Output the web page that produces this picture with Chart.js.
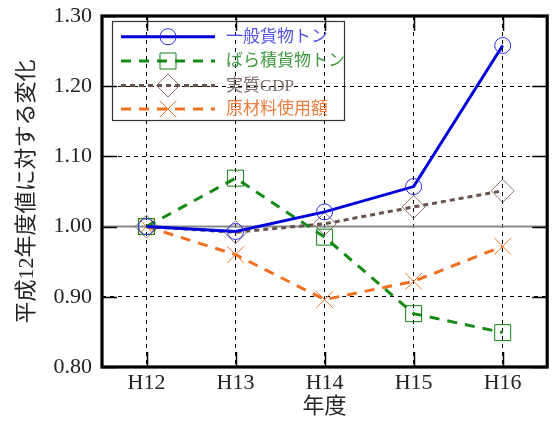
<!DOCTYPE html>
<html>
<head>
<meta charset="utf-8">
<script src="https://cdn.jsdelivr.net/npm/chart.js@4/dist/chart.umd.min.js"></script>
<style>
  html, body { margin: 0; padding: 0; background: #ffffff; }
  #wrap { width: 560px; height: 421px; }
</style>
</head>
<body>
<div id="wrap"><canvas id="c" width="560" height="421"></canvas></div>
<script>
// Fiscal years (Heisei) and ratios relative to FY H12
const years = ['H12', 'H13', 'H14', 'H15', 'H16'];
const generalCargo = [1.000, 0.993, 1.021, 1.057, 1.258];
const bulkCargo    = [1.000, 1.069, 0.985, 0.876, 0.849];
const realGdp      = [1.000, 0.992, 1.004, 1.028, 1.051];
const rawMaterial  = [1.000, 0.960, 0.896, 0.922, 0.972];
const seriesNames  = ['一般貨物トン', 'ばら積貨物トン', '実質GDP', '原材料使用額'];
const yTicks       = [0.80, 0.90, 1.00, 1.10, 1.20, 1.30];
const baseline     = 1.00;

const FONT = "'Liberation Serif', 'Noto Sans CJK JP', serif";

const datasets = [
  { label: seriesNames[0], data: generalCargo, borderColor: '#0000dd', borderWidth: 3,
    pointStyle: 'circle', pointRadius: 8, pointBorderColor: '#2a2aee',
    textColor: '#5252e6' },
  { label: seriesNames[1], data: bulkCargo, borderColor: '#168a16', borderWidth: 3, borderDash: [10, 8],
    pointStyle: 'rect', pointRadius: 11.3, pointBorderColor: '#108010',
    textColor: '#3f9a3f' },
  { label: seriesNames[2], data: realGdp, borderColor: '#6b514b', borderWidth: 3, borderDash: [5, 4],
    pointStyle: 'rectRot', pointRadius: 11.5, pointBorderColor: '#8a736c',
    textColor: '#7a6c68' },
  { label: seriesNames[3], data: rawMaterial, borderColor: '#f07020', borderWidth: 3, borderDash: [10, 8],
    pointStyle: 'crossRot', pointRadius: 11.8, pointBorderColor: '#f07a2a',
    textColor: '#f07c3c' }
].map(d => Object.assign({
  fill: false, tension: 0, pointBorderWidth: 1,
  pointBackgroundColor: 'rgba(0,0,0,0)', pointHoverRadius: d.pointRadius
}, d));

// Solid reference line at the base year level
const baselinePlugin = {
  id: 'baseline',
  beforeDatasetsDraw(chart) {
    const { ctx, chartArea: a, scales: { y } } = chart;
    const py = y.getPixelForValue(baseline);
    ctx.save();
    ctx.strokeStyle = '#8a8a8a';
    ctx.lineWidth = 2;
    ctx.beginPath();
    ctx.moveTo(a.left, py);
    ctx.lineTo(a.right, py);
    ctx.stroke();
    ctx.restore();
  }
};

// Heavy box around the plot with inward tick marks on every side
const framePlugin = {
  id: 'frame',
  afterDatasetsDraw(chart) {
    const { ctx, chartArea: a, scales: { x, y } } = chart;
    const len = 15;
    ctx.save();
    ctx.strokeStyle = '#000';
    ctx.lineWidth = 1.5;
    ctx.beginPath();
    y.ticks.forEach(t => {
      const py = Math.round(y.getPixelForValue(t.value)) + 0.5;
      ctx.moveTo(a.left, py); ctx.lineTo(a.left + len, py);
      ctx.moveTo(a.right, py); ctx.lineTo(a.right - len, py);
    });
    x.ticks.forEach((t, i) => {
      const px = Math.round(x.getPixelForTick(i)) + 0.5;
      ctx.moveTo(px, a.bottom); ctx.lineTo(px, a.bottom - len);
      ctx.moveTo(px, a.top); ctx.lineTo(px, a.top + len);
    });
    ctx.stroke();
    ctx.lineWidth = 3.2;
    ctx.strokeRect(a.left, a.top, a.right - a.left, a.bottom - a.top);
    ctx.restore();
  }
};

// Legend box in the upper-left corner: line sample, marker, then label
const legendPlugin = {
  id: 'boxLegend',
  afterDraw(chart) {
    const { ctx } = chart;
    const box = { x: 112.5, y: 21.5, w: 232, h: 99 };
    const rowY = [36.7, 61, 85.5, 109];
    const lineX0 = 121, lineX1 = 215, markX = 168, textX = 226;
    ctx.save();
    ctx.strokeStyle = '#333';
    ctx.lineWidth = 1.2;
    ctx.strokeRect(box.x, box.y, box.w, box.h);
    chart.data.datasets.forEach((ds, i) => {
      const yy = rowY[i];
      ctx.save();
      ctx.strokeStyle = ds.borderColor;
      ctx.lineWidth = ds.borderWidth;
      ctx.setLineDash(ds.borderDash || []);
      ctx.beginPath();
      ctx.moveTo(lineX0, yy);
      ctx.lineTo(lineX1, yy);
      ctx.stroke();
      ctx.restore();
      ctx.save();
      ctx.strokeStyle = ds.pointBorderColor;
      ctx.fillStyle = 'rgba(0,0,0,0)';
      ctx.lineWidth = ds.pointBorderWidth;
      Chart.helpers.drawPoint(ctx, { pointStyle: ds.pointStyle, radius: ds.pointRadius, borderWidth: 1, rotation: 0 }, markX, yy);
      ctx.restore();
      ctx.fillStyle = ds.textColor;
      ctx.font = '17px ' + FONT;
      ctx.textBaseline = 'middle';
      ctx.textAlign = 'left';
      ctx.fillText(ds.label, textX, yy + 1);
    });
    ctx.restore();
  }
};

const tickFont = { family: FONT, size: 22 };

new Chart(document.getElementById('c'), {
  type: 'line',
  data: { labels: years, datasets },
  options: {
    responsive: false,
    animation: false,
    devicePixelRatio: 1,
    layout: { padding: { left: 0, right: 3, top: 16, bottom: 0 } },
    plugins: { legend: { display: false }, tooltip: { enabled: false } },
    scales: {
      x: {
        type: 'category',
        offset: true,
        grid: { color: '#000', lineWidth: 1, drawTicks: false },
        border: { display: false, dash: [4, 4] },
        ticks: { padding: 3, color: '#222', font: tickFont },
        title: { display: true, text: '年度', color: '#222', font: tickFont, padding: { top: 0, bottom: 1 } },
        afterFit(s) { s.height = 54; s.paddingLeft = 0; s.paddingRight = 0; }
      },
      y: {
        min: yTicks[0],
        max: yTicks[yTicks.length - 1],
        afterBuildTicks(s) { s.ticks = yTicks.map(v => ({ value: v })); },
        grid: { color: '#000', lineWidth: 1, drawTicks: false },
        border: { display: false, dash: [4, 4] },
        ticks: { padding: 10, color: '#222', font: tickFont, callback: v => Number(v).toFixed(2) },
        title: { display: true, text: '平成12年度値に対する変化', color: '#222', font: tickFont, padding: { top: 14, bottom: 0 } },
        afterFit(s) { s.width = 102; s.paddingTop = 0; s.paddingBottom = 0; }
      }
    }
  },
  plugins: [baselinePlugin, framePlugin, legendPlugin]
});
</script>
</body>
</html>
